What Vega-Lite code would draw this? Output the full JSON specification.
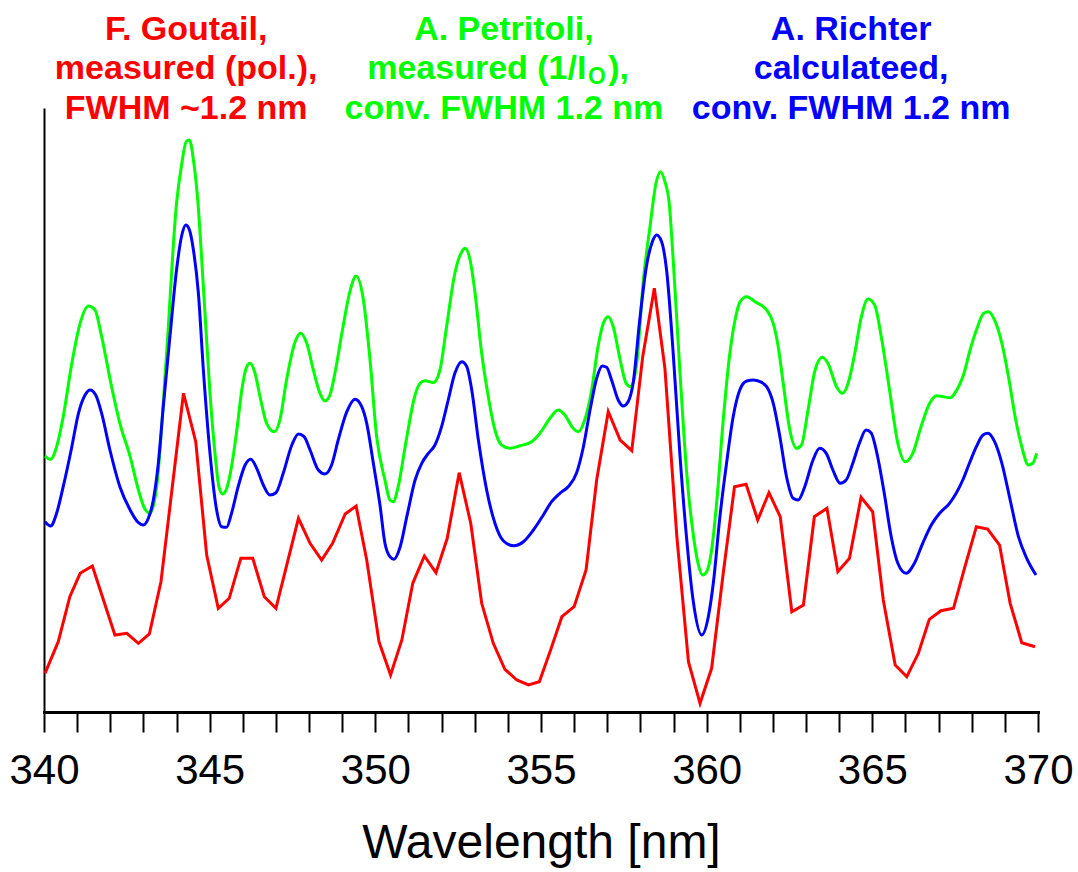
{
"$schema":"https://vega.github.io/schema/vega-lite/v6.json",
"width":994,"height":604,
"autosize":{"type":"none"},
"padding":{"left":44,"top":108,"right":40,"bottom":160},
"background":"white",
"config":{"view":{"stroke":null}},
"datasets":{
"red":[
{"wl":340.03,"v":38.7},{"wl":340.43,"v":70.3},{"wl":340.78,"v":115.3},{"wl":341.09,"v":138.7},{"wl":341.46,"v":146},{"wl":342.14,"v":77},{"wl":342.5,"v":78.7},{"wl":342.85,"v":68.7},{"wl":343.18,"v":78},{"wl":343.53,"v":130.3},{"wl":344.21,"v":318.7},{"wl":344.58,"v":270.3},{"wl":344.91,"v":157},{"wl":345.26,"v":103.7},{"wl":345.59,"v":113.7},{"wl":345.94,"v":153.7},{"wl":346.3,"v":153.7},{"wl":346.65,"v":115.3},{"wl":347.0,"v":103.7},{"wl":347.68,"v":193.7},{"wl":348.03,"v":168.7},{"wl":348.38,"v":152},{"wl":348.71,"v":168.7},{"wl":349.09,"v":198},{"wl":349.42,"v":206},{"wl":349.74,"v":152},{"wl":350.11,"v":70.3},{"wl":350.46,"v":37},{"wl":350.8,"v":72},{"wl":351.13,"v":128.7},{"wl":351.48,"v":156},{"wl":351.83,"v":139.3},{"wl":352.17,"v":173.7},{"wl":352.53,"v":239.3},{"wl":352.88,"v":188.7},{"wl":353.21,"v":108.7},{"wl":353.56,"v":68.7},{"wl":353.91,"v":42.7},{"wl":354.27,"v":32},{"wl":354.62,"v":27},{"wl":354.95,"v":30.3},{"wl":355.29,"v":62},{"wl":355.63,"v":95.3},{"wl":356.0,"v":105.3},{"wl":356.36,"v":142},{"wl":356.68,"v":232},{"wl":357.03,"v":300.3},{"wl":357.39,"v":272},{"wl":357.74,"v":261.3},{"wl":358.07,"v":355.3},{"wl":358.42,"v":423.7},{"wl":358.74,"v":343.7},{"wl":359.1,"v":175.3},{"wl":359.45,"v":50.3},{"wl":359.8,"v":8.7},{"wl":360.15,"v":43.7},{"wl":360.5,"v":138.7},{"wl":360.84,"v":225.3},{"wl":361.19,"v":227.7},{"wl":361.54,"v":192},{"wl":361.88,"v":219.3},{"wl":362.22,"v":195.3},{"wl":362.57,"v":100.3},{"wl":362.92,"v":107},{"wl":363.25,"v":195.3},{"wl":363.63,"v":203.7},{"wl":363.96,"v":140.3},{"wl":364.31,"v":153.7},{"wl":364.66,"v":214.7},{"wl":365.01,"v":200.3},{"wl":365.33,"v":112},{"wl":365.69,"v":47},{"wl":366.04,"v":35.3},{"wl":366.39,"v":58.7},{"wl":366.72,"v":92.7},{"wl":367.07,"v":101.3},{"wl":367.45,"v":103.7},{"wl":367.78,"v":143.7},{"wl":368.14,"v":185.3},{"wl":368.48,"v":183},{"wl":368.84,"v":167},{"wl":369.16,"v":108.7},{"wl":369.51,"v":69.3},{"wl":369.91,"v":65.3}
],
"green":[
{"wl":340.03,"v":256},{"wl":340.2,"v":252.7},{"wl":340.38,"v":265.3},{"wl":340.58,"v":295.3},{"wl":340.84,"v":348.7},{"wl":341.09,"v":388.7},{"wl":341.34,"v":406},{"wl":341.54,"v":402},{"wl":341.74,"v":375.3},{"wl":342.04,"v":325.3},{"wl":342.29,"v":288.7},{"wl":342.6,"v":255.3},{"wl":342.85,"v":222},{"wl":343.05,"v":202.7},{"wl":343.2,"v":198.7},{"wl":343.4,"v":225.3},{"wl":343.7,"v":358.7},{"wl":344.0,"v":508.7},{"wl":344.16,"v":548.7},{"wl":344.29,"v":570.3},{"wl":344.39,"v":572},{"wl":344.51,"v":552},{"wl":344.64,"v":512},{"wl":344.81,"v":425.3},{"wl":345.01,"v":318.7},{"wl":345.16,"v":258.7},{"wl":345.28,"v":225.3},{"wl":345.39,"v":218},{"wl":345.53,"v":225.3},{"wl":345.66,"v":245.3},{"wl":345.82,"v":282},{"wl":345.97,"v":322},{"wl":346.1,"v":343.7},{"wl":346.22,"v":348.7},{"wl":346.37,"v":338.7},{"wl":346.52,"v":315.3},{"wl":346.72,"v":288.7},{"wl":346.95,"v":280.3},{"wl":347.12,"v":292},{"wl":347.32,"v":332},{"wl":347.58,"v":370.3},{"wl":347.75,"v":378.7},{"wl":347.93,"v":368.7},{"wl":348.13,"v":342},{"wl":348.33,"v":318.7},{"wl":348.48,"v":311},{"wl":348.63,"v":317},{"wl":348.78,"v":338.7},{"wl":348.99,"v":378.7},{"wl":349.22,"v":418.7},{"wl":349.42,"v":436},{"wl":349.64,"v":412},{"wl":349.84,"v":352},{"wl":350.04,"v":275.3},{"wl":350.29,"v":232},{"wl":350.44,"v":212},{"wl":350.54,"v":210.3},{"wl":350.69,"v":225.3},{"wl":350.9,"v":265.3},{"wl":351.2,"v":317},{"wl":351.35,"v":328.7},{"wl":351.5,"v":331.3},{"wl":351.75,"v":329.3},{"wl":351.95,"v":342},{"wl":352.15,"v":385.3},{"wl":352.4,"v":438.7},{"wl":352.61,"v":460.3},{"wl":352.71,"v":463.7},{"wl":352.86,"v":452},{"wl":353.01,"v":418.7},{"wl":353.21,"v":358.7},{"wl":353.41,"v":315.3},{"wl":353.61,"v":282},{"wl":353.81,"v":267},{"wl":354.06,"v":263.7},{"wl":354.37,"v":266.3},{"wl":354.72,"v":270.3},{"wl":354.97,"v":278.7},{"wl":355.27,"v":293.7},{"wl":355.52,"v":302},{"wl":355.72,"v":297},{"wl":355.97,"v":283.7},{"wl":356.12,"v":280.3},{"wl":356.32,"v":292},{"wl":356.53,"v":322},{"wl":356.72,"v":365.3},{"wl":356.9,"v":390.3},{"wl":357.03,"v":395.3},{"wl":357.18,"v":385.3},{"wl":357.39,"v":352},{"wl":357.57,"v":328.7},{"wl":357.71,"v":325.3},{"wl":357.89,"v":348.7},{"wl":358.09,"v":432},{"wl":358.29,"v":485.3},{"wl":358.47,"v":528.7},{"wl":358.61,"v":540.3},{"wl":358.74,"v":530.3},{"wl":358.87,"v":508.7},{"wl":358.99,"v":452},{"wl":359.19,"v":342},{"wl":359.39,"v":242},{"wl":359.59,"v":178.7},{"wl":359.74,"v":148.7},{"wl":359.88,"v":137},{"wl":360.0,"v":140.3},{"wl":360.15,"v":162},{"wl":360.3,"v":208.7},{"wl":360.5,"v":292},{"wl":360.7,"v":358.7},{"wl":360.9,"v":398.7},{"wl":361.01,"v":410.3},{"wl":361.21,"v":415.3},{"wl":361.46,"v":410.3},{"wl":361.81,"v":402},{"wl":362.01,"v":388.7},{"wl":362.16,"v":365.3},{"wl":362.31,"v":328.7},{"wl":362.51,"v":282},{"wl":362.71,"v":263.7},{"wl":362.86,"v":267},{"wl":363.06,"v":302},{"wl":363.26,"v":340.3},{"wl":363.49,"v":354.7},{"wl":363.66,"v":348.7},{"wl":363.92,"v":325.3},{"wl":364.1,"v":318.7},{"wl":364.27,"v":328.7},{"wl":364.47,"v":358.7},{"wl":364.67,"v":395.3},{"wl":364.87,"v":413},{"wl":365.07,"v":407},{"wl":365.27,"v":375.3},{"wl":365.52,"v":322},{"wl":365.77,"v":268.7},{"wl":366.0,"v":250.3},{"wl":366.22,"v":258.7},{"wl":366.47,"v":285.3},{"wl":366.73,"v":308.7},{"wl":366.94,"v":316.3},{"wl":367.14,"v":315.3},{"wl":367.35,"v":314.3},{"wl":367.55,"v":322},{"wl":367.75,"v":337},{"wl":367.95,"v":362},{"wl":368.16,"v":383.7},{"wl":368.36,"v":398.7},{"wl":368.51,"v":400.3},{"wl":368.71,"v":390.3},{"wl":368.91,"v":368.7},{"wl":369.11,"v":335.3},{"wl":369.31,"v":295.3},{"wl":369.51,"v":265.3},{"wl":369.71,"v":247},{"wl":369.84,"v":248.7},{"wl":369.96,"v":258.7}
],
"blue":[
{"wl":340.03,"v":190.3},{"wl":340.2,"v":186},{"wl":340.38,"v":198.7},{"wl":340.58,"v":225.3},{"wl":340.84,"v":265.3},{"wl":341.04,"v":298.7},{"wl":341.24,"v":317},{"wl":341.39,"v":322},{"wl":341.56,"v":317},{"wl":341.74,"v":298.7},{"wl":341.99,"v":262},{"wl":342.29,"v":225.3},{"wl":342.6,"v":202},{"wl":342.85,"v":189.3},{"wl":343.0,"v":187},{"wl":343.15,"v":193.7},{"wl":343.3,"v":212},{"wl":343.45,"v":248.7},{"wl":343.6,"v":305.3},{"wl":343.8,"v":375.3},{"wl":344.0,"v":442},{"wl":344.16,"v":477},{"wl":344.28,"v":487},{"wl":344.39,"v":482},{"wl":344.51,"v":462},{"wl":344.66,"v":418.7},{"wl":344.81,"v":342},{"wl":345.01,"v":258.7},{"wl":345.21,"v":202},{"wl":345.36,"v":185.3},{"wl":345.51,"v":184.7},{"wl":345.66,"v":198.7},{"wl":345.86,"v":225.3},{"wl":346.07,"v":247},{"wl":346.24,"v":252.7},{"wl":346.42,"v":243.7},{"wl":346.62,"v":227},{"wl":346.82,"v":217},{"wl":347.0,"v":219.3},{"wl":347.22,"v":238.7},{"wl":347.48,"v":267},{"wl":347.68,"v":278},{"wl":347.85,"v":275.3},{"wl":348.03,"v":262},{"wl":348.28,"v":242},{"wl":348.48,"v":238},{"wl":348.68,"v":247},{"wl":348.88,"v":272},{"wl":349.14,"v":300.3},{"wl":349.39,"v":312.7},{"wl":349.59,"v":305.3},{"wl":349.74,"v":288.7},{"wl":349.94,"v":248.7},{"wl":350.14,"v":207},{"wl":350.29,"v":168.7},{"wl":350.44,"v":155.3},{"wl":350.56,"v":152.7},{"wl":350.75,"v":165.3},{"wl":350.95,"v":195.3},{"wl":351.2,"v":232},{"wl":351.4,"v":248.7},{"wl":351.6,"v":258.7},{"wl":351.8,"v":267},{"wl":352.0,"v":285.3},{"wl":352.2,"v":312},{"wl":352.4,"v":338.7},{"wl":352.61,"v":350.3},{"wl":352.76,"v":345.3},{"wl":352.91,"v":322},{"wl":353.11,"v":272},{"wl":353.36,"v":222},{"wl":353.61,"v":188.7},{"wl":353.86,"v":171.3},{"wl":354.17,"v":166.3},{"wl":354.47,"v":170.3},{"wl":354.77,"v":182},{"wl":355.07,"v":197},{"wl":355.32,"v":210.3},{"wl":355.57,"v":218.7},{"wl":355.82,"v":225.3},{"wl":356.07,"v":238.7},{"wl":356.28,"v":265.3},{"wl":356.48,"v":302},{"wl":356.68,"v":333.7},{"wl":356.85,"v":346},{"wl":356.98,"v":344.7},{"wl":357.13,"v":332},{"wl":357.33,"v":312},{"wl":357.48,"v":306},{"wl":357.63,"v":310.3},{"wl":357.78,"v":328.7},{"wl":357.98,"v":392},{"wl":358.18,"v":445.3},{"wl":358.36,"v":470.3},{"wl":358.49,"v":477},{"wl":358.64,"v":470.3},{"wl":358.79,"v":442},{"wl":358.99,"v":358.7},{"wl":359.19,"v":258.7},{"wl":359.39,"v":175.3},{"wl":359.59,"v":112},{"wl":359.85,"v":77},{"wl":360.05,"v":95.3},{"wl":360.2,"v":128.7},{"wl":360.4,"v":195.3},{"wl":360.6,"v":248.7},{"wl":360.8,"v":295.3},{"wl":361.0,"v":322},{"wl":361.21,"v":331},{"wl":361.41,"v":332},{"wl":361.61,"v":330.3},{"wl":361.81,"v":325.3},{"wl":362.01,"v":308.7},{"wl":362.21,"v":275.3},{"wl":362.41,"v":235.3},{"wl":362.61,"v":213.7},{"wl":362.76,"v":212},{"wl":362.96,"v":225.3},{"wl":363.21,"v":252},{"wl":363.41,"v":263.7},{"wl":363.61,"v":258.7},{"wl":363.81,"v":242},{"wl":364.03,"v":228.7},{"wl":364.21,"v":232},{"wl":364.41,"v":248.7},{"wl":364.61,"v":268.7},{"wl":364.81,"v":282},{"wl":364.96,"v":279.3},{"wl":365.16,"v":255.3},{"wl":365.36,"v":218.7},{"wl":365.57,"v":175.3},{"wl":365.77,"v":148.7},{"wl":366.02,"v":138.7},{"wl":366.27,"v":148.7},{"wl":366.52,"v":168.7},{"wl":366.78,"v":187},{"wl":367.03,"v":198.7},{"wl":367.33,"v":208.7},{"wl":367.53,"v":218.7},{"wl":367.73,"v":232},{"wl":367.93,"v":248.7},{"wl":368.14,"v":265.3},{"wl":368.34,"v":277},{"wl":368.49,"v":278.7},{"wl":368.69,"v":270.3},{"wl":368.91,"v":248.7},{"wl":369.16,"v":212},{"wl":369.41,"v":175.3},{"wl":369.66,"v":153.7},{"wl":369.94,"v":137}
],
"labels":[
{"series":"Goutail","text":"F. Goutail,","wl":344.29,"v":672},
{"series":"Goutail","text":"measured (pol.),","wl":344.29,"v":633},
{"series":"Goutail","text":"FWHM ~1.2 nm","wl":344.29,"v":593},
{"series":"Petritoli","text":"A. Petritoli,","wl":353.88,"v":672},
{"series":"Petritoli","text":"conv. FWHM 1.2 nm","wl":353.88,"v":593},
{"series":"Richter","text":"A. Richter","wl":364.36,"v":672},
{"series":"Richter","text":"calculateed,","wl":364.36,"v":633},
{"series":"Richter","text":"conv. FWHM 1.2 nm","wl":364.36,"v":593}
],
"labelLeft":[{"series":"Petritoli","text":"measured (1/I","wl":356.37,"v":633}],
"labelSub":[{"series":"Petritoli","text":"O","wl":356.42,"v":628}],
"labelRight":[{"series":"Petritoli","text":"),","wl":357.03,"v":633}]
},
"encoding":{
"x":{"field":"wl","type":"quantitative","scale":{"domain":[340,370],"nice":false,"zero":false},
 "axis":{"values":[340,341,342,343,344,345,346,347,348,349,350,351,352,353,354,355,356,357,358,359,360,361,362,363,364,365,366,367,368,369,370],
 "labelExpr":"datum.value % 5 === 0 ? datum.label : ''",
 "tickSize":20,
 "encode":{"ticks":{"update":{"y2":{"signal":"datum.value % 5 === 0 ? 20 : 11"}}}},
 "tickWidth":2,"tickColor":"black","domainWidth":3,"domainColor":"black","domainCap":"square",
 "labelFont":"Liberation Sans","labelFontSize":42,"labelColor":"black","labelPadding":18,"labelFlush":false,"labelOverlap":false,
 "title":"Wavelength [nm]","titleFont":"Liberation Sans","titleFontSize":48,"titleFontWeight":"normal","titleColor":"black","titlePadding":28,"grid":false}},
"y":{"field":"v","type":"quantitative","scale":{"domain":[0,604],"nice":false,"zero":false},
 "axis":{"ticks":false,"labels":false,"title":null,"grid":false,"domainWidth":2,"domainColor":"black"}},
"color":{"field":"series","type":"nominal","scale":{"domain":["Goutail","Petritoli","Richter"],"range":["#ff0000","#00ff00","#0000ff"]},"legend":null}
},
"layer":[
{"data":{"name":"green"},"transform":[{"calculate":"'Petritoli'","as":"series"}],"mark":{"type":"line","strokeWidth":3,"interpolate":"monotone"}},
{"data":{"name":"blue"},"transform":[{"calculate":"'Richter'","as":"series"}],"mark":{"type":"line","strokeWidth":3,"interpolate":"monotone"}},
{"data":{"name":"red"},"transform":[{"calculate":"'Goutail'","as":"series"}],"mark":{"type":"line","strokeWidth":3}},
{"data":{"name":"labels"},"mark":{"type":"text","font":"Liberation Sans","fontWeight":"bold","fontSize":34,"align":"center","baseline":"alphabetic"},"encoding":{"text":{"field":"text"}}},
{"data":{"name":"labelLeft"},"mark":{"type":"text","font":"Liberation Sans","fontWeight":"bold","fontSize":34,"align":"right","baseline":"alphabetic"},"encoding":{"text":{"field":"text"}}},
{"data":{"name":"labelSub"},"mark":{"type":"text","font":"Liberation Sans","fontWeight":"bold","fontSize":23,"align":"left","baseline":"alphabetic"},"encoding":{"text":{"field":"text"}}},
{"data":{"name":"labelRight"},"mark":{"type":"text","font":"Liberation Sans","fontWeight":"bold","fontSize":34,"align":"left","baseline":"alphabetic"},"encoding":{"text":{"field":"text"}}}
]
}
